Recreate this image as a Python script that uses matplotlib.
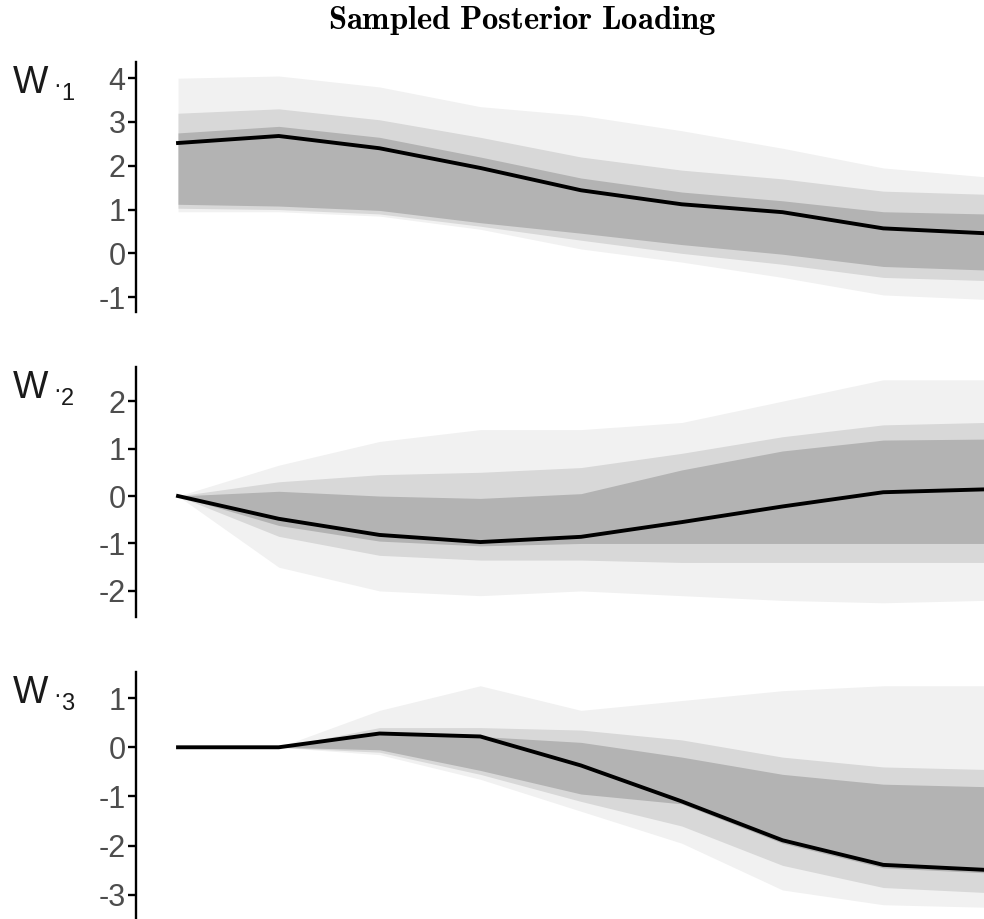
import numpy as np
import matplotlib.pyplot as plt

plt.rcParams['font.family'] = ['Liberation Sans', 'DejaVu Sans']
plt.rcParams['mathtext.fontset'] = 'cm'
plt.rcParams['axes.unicode_minus'] = False

# x positions (9 observed dimensions)
steps = np.arange(9)

# W.1 : posterior mean and envelopes of the sampled lines
mean1 = [2.52, 2.68, 2.40, 1.95, 1.44, 1.12, 0.94, 0.57, 0.46]
outer_hi1 = [4.00, 4.05, 3.80, 3.35, 3.15, 2.80, 2.40, 1.95, 1.75]
mid_hi1 = [3.20, 3.30, 3.05, 2.65, 2.20, 1.90, 1.70, 1.42, 1.35]
core_hi1 = [2.75, 2.90, 2.65, 2.20, 1.72, 1.40, 1.20, 0.95, 0.90]
core_lo1 = [1.12, 1.08, 0.98, 0.70, 0.46, 0.20, -0.02, -0.30, -0.38]
mid_lo1 = [1.03, 1.00, 0.90, 0.62, 0.30, 0.00, -0.25, -0.55, -0.62]
outer_lo1 = [0.95, 0.95, 0.85, 0.55, 0.10, -0.20, -0.55, -0.95, -1.05]

# W.2
mean2 = [0.0, -0.48, -0.82, -0.97, -0.86, -0.55, -0.22, 0.08, 0.14]
outer_hi2 = [0.0, 0.65, 1.15, 1.40, 1.40, 1.55, 2.00, 2.45, 2.45]
mid_hi2 = [0.0, 0.30, 0.45, 0.50, 0.60, 0.90, 1.25, 1.50, 1.55]
core_hi2 = [0.0, 0.10, 0.00, -0.05, 0.05, 0.55, 0.95, 1.18, 1.20]
core_lo2 = [0.0, -0.62, -0.95, -1.05, -1.00, -1.00, -1.00, -1.00, -1.00]
mid_lo2 = [0.0, -0.85, -1.25, -1.35, -1.35, -1.40, -1.40, -1.40, -1.40]
outer_lo2 = [0.0, -1.50, -2.00, -2.10, -2.00, -2.10, -2.20, -2.25, -2.20]

# W.3
mean3 = [0.0, 0.0, 0.28, 0.22, -0.37, -1.10, -1.89, -2.39, -2.49]
outer_hi3 = [0.0, 0.0, 0.75, 1.25, 0.75, 0.95, 1.15, 1.25, 1.25]
mid_hi3 = [0.0, 0.0, 0.40, 0.40, 0.35, 0.15, -0.20, -0.40, -0.45]
core_hi3 = [0.0, 0.0, 0.28, 0.22, 0.10, -0.20, -0.55, -0.75, -0.80]
core_lo3 = [0.0, 0.0, -0.05, -0.47, -0.95, -1.15, -1.95, -2.45, -2.55]
mid_lo3 = [0.0, 0.0, -0.10, -0.55, -1.10, -1.60, -2.40, -2.85, -2.95]
outer_lo3 = [0.0, 0.0, -0.15, -0.65, -1.30, -1.95, -2.90, -3.20, -3.25]

labels = ['1', '2', '3']
yticks = [range(-1, 5), range(-2, 3), range(-3, 2)]
ylims = [(-1.34, 4.37), (-2.55, 2.72), (-3.49, 1.53)]
# panel pixel extents: top, bottom
extents = [(62, 312), (367, 617), (672, 919)]

W, H = 984, 919
fig = plt.figure(figsize=(W / 100, H / 100), dpi=100)

panels = [
    (mean1, outer_lo1, outer_hi1, mid_lo1, mid_hi1, core_lo1, core_hi1),
    (mean2, outer_lo2, outer_hi2, mid_lo2, mid_hi2, core_lo2, core_hi2),
    (mean3, outer_lo3, outer_hi3, mid_lo3, mid_hi3, core_lo3, core_hi3),
]

left = 136
for i, (mean, olo, ohi, mlo, mhi, clo, chi) in enumerate(panels):
    top, bottom = extents[i]
    ax = fig.add_axes([left / W, 1 - bottom / H, (W - left) / W, (bottom - top) / H])
    ax.fill_between(steps, olo, ohi, color='#f1f1f1', lw=0)
    ax.fill_between(steps, mlo, mhi, color='#d8d8d8', lw=0)
    ax.fill_between(steps, clo, chi, color='#b3b3b3', lw=0)
    ax.plot(steps, mean, color='black', lw=2.8, solid_joinstyle='miter')

    ax.set_xlim(-0.417, 8)
    ax.set_ylim(*ylims[i])
    ax.set_yticks(list(yticks[i]))
    ax.set_xticks([])
    for s in ['top', 'right', 'bottom']:
        ax.spines[s].set_visible(False)
    ax.spines['left'].set_linewidth(1.7)
    ax.tick_params(axis='y', length=6, width=1.7, pad=1.5,
                   labelsize=22, labelcolor='#4d4d4d')
    ax.patch.set_alpha(0)

    # y label W.k
    base = top + 31
    fig.text(13 / W, 1 - base / H, 'W', fontsize=27, color='#1a1a1a',
             ha='left', va='baseline')
    fig.text(53 / W, 1 - (base - 1) / H, '\u00b7', fontsize=17,
             color='#1a1a1a', ha='left', va='baseline')
    fig.text(61 / W, 1 - (base + 7) / H, labels[i], fontsize=17,
             color='#1a1a1a', ha='left', va='baseline')

fig.text(522 / W, 1 - 29 / H, r'$\mathbf{Sampled\ Posterior\ Loading}$',
         fontsize=23.5, ha='center', va='baseline')

fig.savefig('out.png', dpi=100)
